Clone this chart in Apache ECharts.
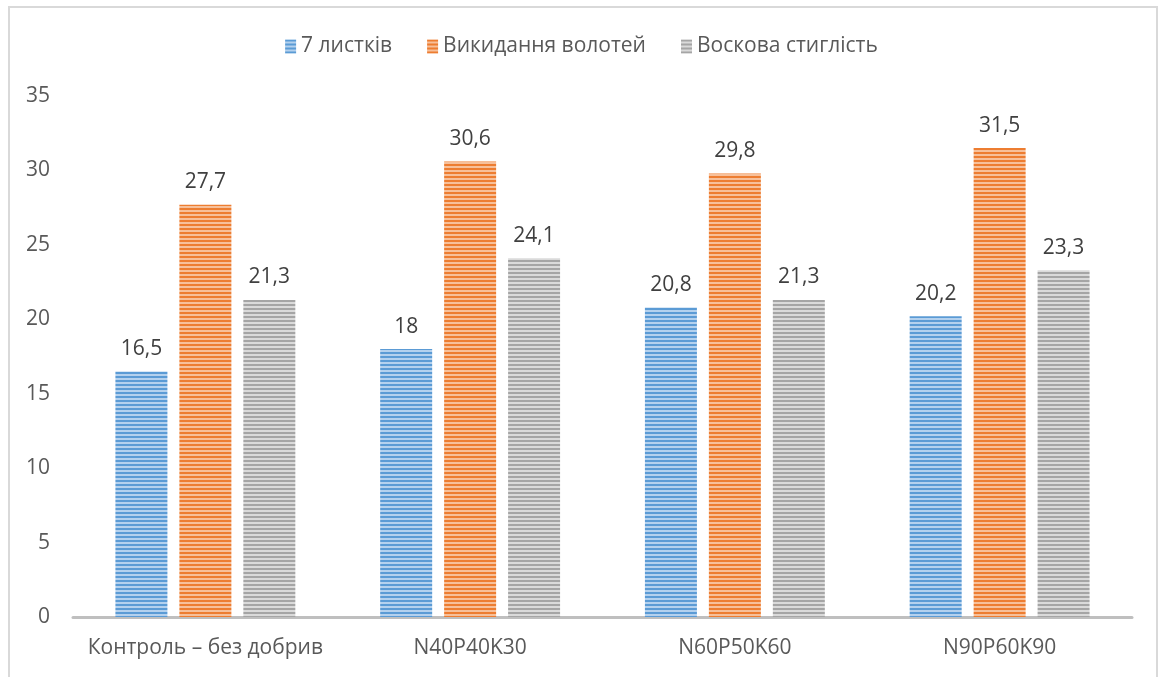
<!DOCTYPE html>
<html>
<head>
<meta charset="utf-8">
<script src="https://cdn.jsdelivr.net/npm/echarts@6/dist/echarts.min.js"></script>
<style>
  html, body { margin: 0; padding: 0; background: #fff; }
  #frame { position: absolute; left: 8px; top: 6px; width: 1150px; height: 700px;
           border: 2px solid #d9d9d9; border-bottom: none; box-sizing: border-box; }
  #chart { position: absolute; left: 0; top: 0; width: 1163px; height: 677px; }
</style>
</head>
<body>
<div id="frame"></div>
<div id="chart"></div>
<script>
const categories = ['Контроль – без добрив', 'N40P40K30', 'N60P50K60', 'N90P60K90'];
const seriesNames = ['7 листків', 'Викидання волотей', 'Воскова стиглість'];
const leaves7 = [16.5, 18, 20.8, 20.2];
const panicles = [27.7, 30.6, 29.8, 31.5];
const waxRipeness = [21.3, 24.1, 21.3, 23.3];
const yTicks = [0, 5, 10, 15, 20, 25, 30, 35];

// Horizontal stripe fill: a dark band and a lighter band alternating every 2px
function stripes(dark, light) {
  const c = document.createElement('canvas');
  c.width = 4; c.height = 4;
  const g = c.getContext('2d');
  g.fillStyle = light; g.fillRect(0, 0, 4, 4);
  g.fillStyle = dark; g.fillRect(0, 0, 4, 2);
  return { image: c, repeat: 'repeat' };
}

const fills = [
  stripes('#5b9bd5', '#b4d1ee'),
  stripes('#ed7d31', '#f7c09a'),
  stripes('#a5a5a5', '#dadada')
];
const values = [leaves7, panicles, waxRipeness];

const chart = echarts.init(document.getElementById('chart'), null, { renderer: 'canvas' });
chart.setOption({
  animation: false,
  textStyle: { fontFamily: 'Open Sans, Noto Sans, sans-serif' },
  legend: {
    top: 31,
    left: 'center',
    itemWidth: 11,
    itemHeight: 14,
    itemGap: 35,
    icon: 'rect',
    textStyle: { color: '#595959', fontSize: 21 },
    data: seriesNames
  },
  grid: { left: 73, right: 31, top: 96, bottom: 60 },
  xAxis: {
    type: 'category',
    data: categories,
    axisLine: { lineStyle: { color: '#bfbfbf', width: 3 } },
    axisTick: { show: false },
    axisLabel: { color: '#595959', fontSize: 21, margin: 21, interval: 0 }
  },
  yAxis: {
    type: 'value',
    min: yTicks[0],
    max: yTicks[yTicks.length - 1],
    interval: 5,
    splitLine: { show: false },
    axisLine: { show: false },
    axisTick: { show: false },
    axisLabel: { color: '#595959', fontSize: 21, margin: 23 }
  },
  series: seriesNames.map((name, i) => ({
    name: name,
    type: 'bar',
    data: values[i],
    barWidth: 52,
    barGap: '23%',
    itemStyle: { color: fills[i] },
    label: {
      show: true,
      position: 'top',
      distance: 12,
      color: '#404040',
      fontSize: 21,
      formatter: p => String(p.value).replace('.', ',')
    }
  }))
});
</script>
</body>
</html>
